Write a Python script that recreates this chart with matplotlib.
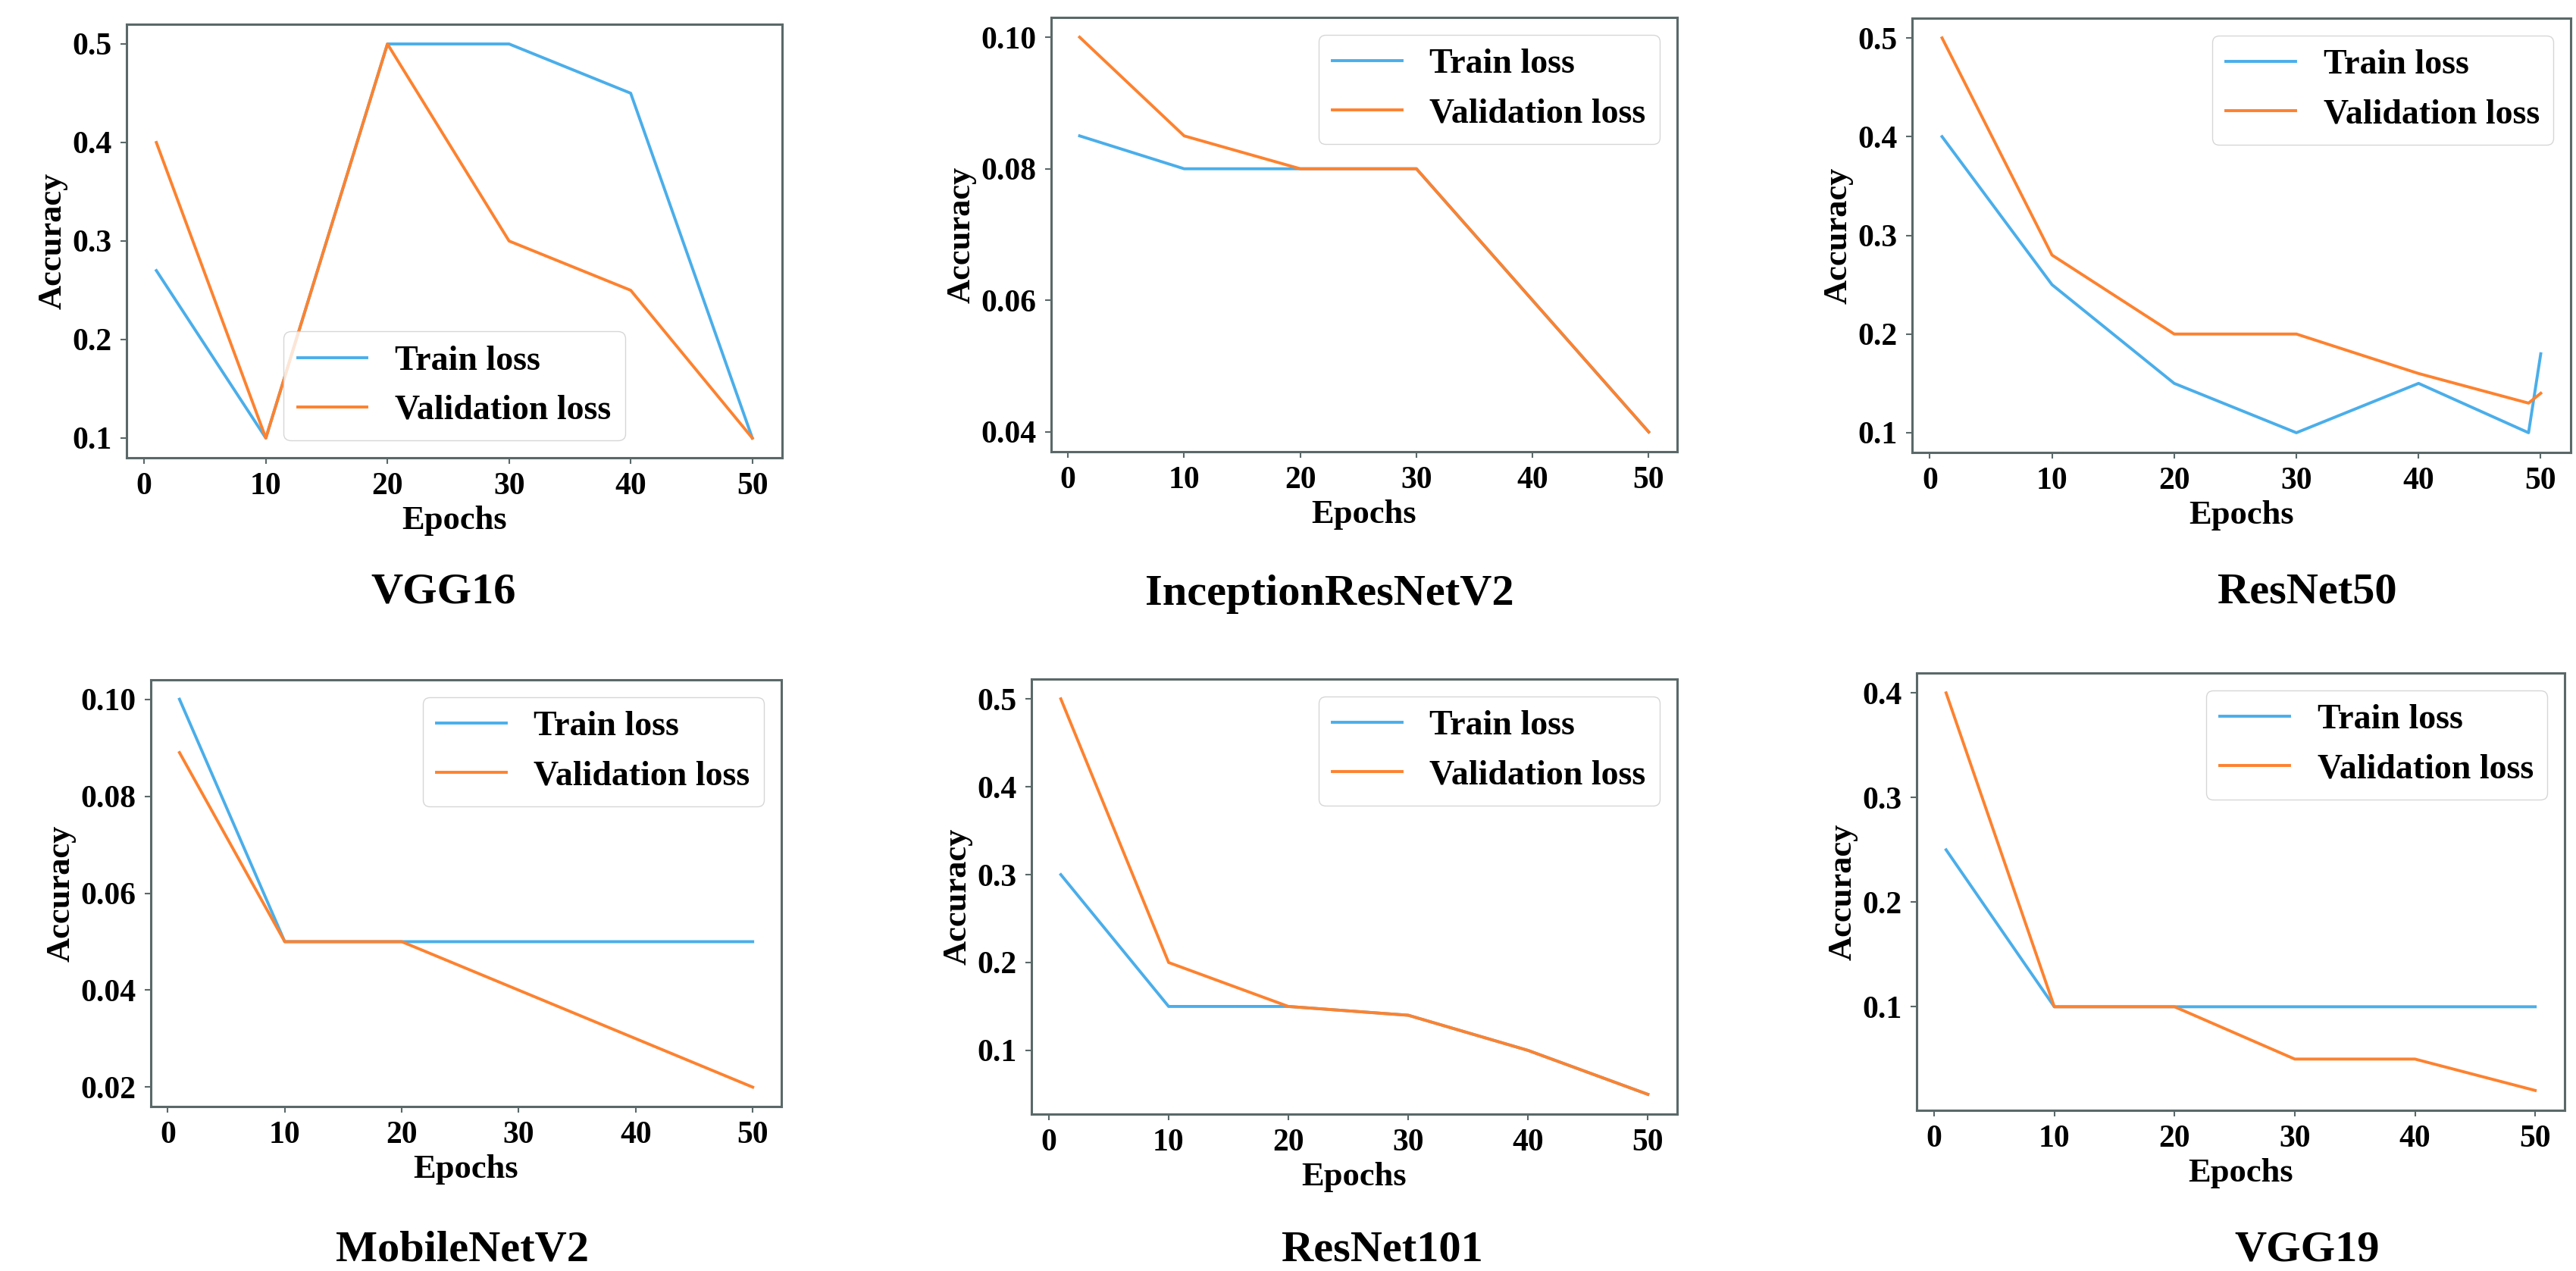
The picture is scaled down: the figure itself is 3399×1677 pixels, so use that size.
import matplotlib
matplotlib.use("Agg")
import matplotlib.pyplot as plt

# --- Data ---
names = ["VGG16", "InceptionResNetV2", "ResNet50", "MobileNetV2", "ResNet101", "VGG19"]

epochs = [1, 10, 20, 30, 40, 50]
epochs_resnet50 = [1, 10, 20, 30, 40, 49, 50]

vgg16_train = [0.27, 0.10, 0.50, 0.50, 0.45, 0.10]
vgg16_val = [0.40, 0.10, 0.50, 0.30, 0.25, 0.10]

incep_train = [0.085, 0.08, 0.08, 0.08, 0.06, 0.04]
incep_val = [0.10, 0.085, 0.08, 0.08, 0.06, 0.04]

resnet50_train = [0.40, 0.25, 0.15, 0.10, 0.15, 0.10, 0.18]
resnet50_val = [0.50, 0.28, 0.20, 0.20, 0.16, 0.13, 0.14]

mobile_train = [0.10, 0.05, 0.05, 0.05, 0.05, 0.05]
mobile_val = [0.089, 0.05, 0.05, 0.04, 0.03, 0.02]

resnet101_train = [0.30, 0.15, 0.15, 0.14, 0.10, 0.05]
resnet101_val = [0.50, 0.20, 0.15, 0.14, 0.10, 0.05]

vgg19_train = [0.25, 0.10, 0.10, 0.10, 0.10, 0.10]
vgg19_val = [0.40, 0.10, 0.10, 0.05, 0.05, 0.02]

yticks_list = [
    [0.1, 0.2, 0.3, 0.4, 0.5],
    [0.04, 0.06, 0.08, 0.10],
    [0.1, 0.2, 0.3, 0.4, 0.5],
    [0.02, 0.04, 0.06, 0.08, 0.10],
    [0.1, 0.2, 0.3, 0.4, 0.5],
    [0.1, 0.2, 0.3, 0.4],
]
ytick_fmt = ["{:.1f}", "{:.2f}", "{:.1f}", "{:.2f}", "{:.1f}", "{:.1f}"]

xs = [epochs, epochs, epochs_resnet50, epochs, epochs, epochs]
trains = [vgg16_train, incep_train, resnet50_train, mobile_train, resnet101_train, vgg19_train]
vals = [vgg16_val, incep_val, resnet50_val, mobile_val, resnet101_val, vgg19_val]
legend_loc = ["lower center", "upper right", "upper right", "upper right", "upper right", "upper right"]

# --- Layout in pixels (left, right, top, bottom) and title centres ---
W, H = 3399, 1677
boxes = [
    (167, 1032, 32, 604),
    (1387, 2213, 23, 596),
    (2523, 3392, 24, 597),
    (199, 1031, 897, 1460),
    (1361, 2213, 896, 1470),
    (2529, 3384, 888, 1465),
]
title_pos = [(585, 781), (1754, 784), (3044, 781), (610, 1649), (1824, 1649), (3044, 1649)]

BLUE = "#4aaeea"
ORANGE = "#fd822f"
SPINE = "#5a6868"

plt.rcParams["font.family"] = ["Liberation Serif", "DejaVu Serif"]
plt.rcParams["font.weight"] = "bold"

fig = plt.figure(figsize=(W / 100, H / 100), dpi=100)

for i in range(6):
    l, r, t, b = boxes[i]
    ax = fig.add_axes([l / W, 1 - b / H, (r - l) / W, (b - t) / H])
    ax.plot(xs[i], trains[i], color=BLUE, lw=2.8, label="Train loss")
    ax.plot(xs[i], vals[i], color=ORANGE, lw=2.8, label="Validation loss")

    ax.set_xticks([0, 10, 20, 30, 40, 50])
    ax.set_yticks(yticks_list[i])
    ax.set_yticklabels([ytick_fmt[i].format(v) for v in yticks_list[i]])
    ax.tick_params(labelsize=30, length=6, width=1.5, pad=8, color=SPINE)
    for lab in ax.get_xticklabels() + ax.get_yticklabels():
        lab.set_fontweight("bold")

    for sp in ax.spines.values():
        sp.set_color(SPINE)
        sp.set_linewidth(2.2)

    ax.set_xlabel("Epochs", fontsize=32, fontweight="bold")
    ax.set_ylabel("Accuracy", fontsize=32, fontweight="bold")
    ax.legend(loc=legend_loc[i], prop={"size": 33, "weight": "bold"})

    tx, ty = title_pos[i]
    fig.text(tx / W, 1 - ty / H, names[i], fontsize=42, fontweight="bold",
             ha="center", va="center")

fig.savefig("out.png", dpi=100)
